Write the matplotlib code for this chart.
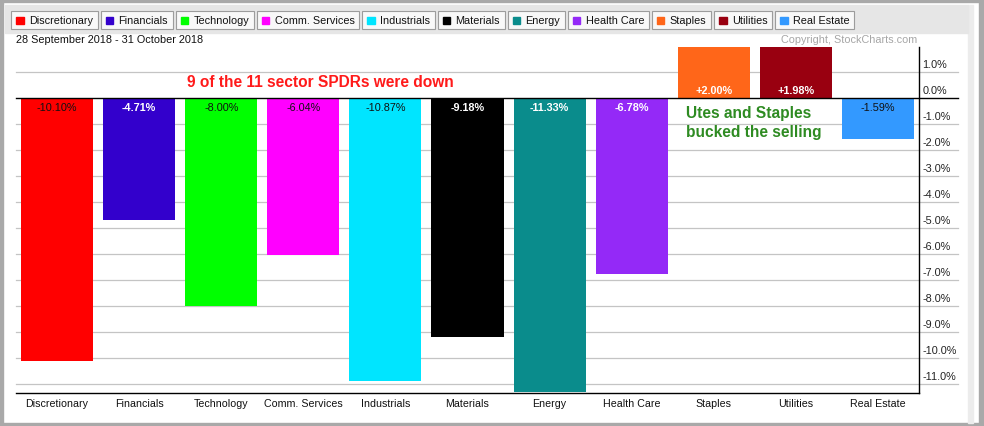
import matplotlib
matplotlib.use("Agg")
import matplotlib.pyplot as plt
from matplotlib.patches import Rectangle
from matplotlib.transforms import blended_transform_factory

plt.rcParams["font.family"] = ["Liberation Sans", "DejaVu Sans"]

sectors = ["Discretionary", "Financials", "Technology", "Comm. Services", "Industrials",
           "Materials", "Energy", "Health Care", "Staples", "Utilities", "Real Estate"]
changes = [-10.10, -4.71, -8.00, -6.04, -10.87, -9.18, -11.33, -6.78, 2.00, 1.98, -1.59]
colors = ["#ff0000", "#3300cc", "#00ff00", "#ff00ff", "#00e5ff", "#000000",
          "#0a8c8c", "#9429f7", "#ff6619", "#990010", "#3399ff"]
dark_bars = ["Financials", "Materials", "Energy", "Health Care", "Staples", "Utilities"]
y_ticks = [1, 0, -1, -2, -3, -4, -5, -6, -7, -8, -9, -10, -11]
date_range = "28 September 2018 - 31 October 2018"

W, H = 984, 426
fig = plt.figure(figsize=(W / 100, H / 100), dpi=100)
fig.patch.set_facecolor("white")

# pixel-space layer for the frame, header and legend buttons
deco = fig.add_axes([0, 0, 1, 1], zorder=0)
deco.set_xlim(0, W)
deco.set_ylim(H, 0)
deco.axis("off")

border = "#a9a9a9"
deco.add_patch(Rectangle((0, 0), W, 2, color=border))
deco.add_patch(Rectangle((0, 0), 3, H, color=border))
deco.add_patch(Rectangle((0, H - 3), W, 3, color=border))
deco.add_patch(Rectangle((W - 5, 0), 5, H, color=border))
deco.add_patch(Rectangle((968, 5), 5, H - 8, color="#ececec"))
deco.add_patch(Rectangle((5, 5), 963, 28, color="#e6e6e6"))

renderer = fig.canvas.get_renderer()
bx = 11
for name, col in zip(sectors, colors):
    t = deco.text(bx + 18, 20.5, name, fontsize=7.8, va="center", ha="left", color="#111111", zorder=3)
    tw = t.get_window_extent(renderer=renderer).width
    bw = 18 + tw + 4.5
    deco.add_patch(Rectangle((bx, 11), bw, 18, facecolor="#f8f8f8", edgecolor="#9c9c9c", lw=0.8, zorder=2))
    deco.add_patch(Rectangle((bx + 5, 16.5), 7.5, 7.5, color=col, zorder=3))
    bx += bw + 3

deco.text(16, 40, date_range, fontsize=7.8, va="center", ha="left", color="#111111")
deco.text(917, 40, "Copyright, StockCharts.com", fontsize=7.8, va="center", ha="right", color="#a6a6a6")

# main bar chart
left, right, top, bottom = 16, 919, 47, 393
ax = fig.add_axes([left / W, (H - bottom) / H, (right - left) / W, (bottom - top) / H], zorder=1)
ax.set_facecolor("none")
xs = list(range(len(sectors)))
ax.bar(xs, changes, width=72 / 82, color=colors, zorder=2)
ax.set_xlim(-0.5, len(sectors) - 0.5)
ax.set_ylim(-11.35, 1.96)

for s in ["top", "left"]:
    ax.spines[s].set_visible(False)
ax.spines["right"].set_linewidth(1.0)
ax.spines["bottom"].set_linewidth(1.0)
ax.set_yticks([])
ax.set_xticks(xs)
ax.set_xticklabels(sectors, fontsize=7.7, color="#111111")
ax.tick_params(axis="x", length=0, pad=4)

ext = (958 - left) / (right - left)
tr = blended_transform_factory(ax.transAxes, ax.transData)
for v in y_ticks:
    if v == 0:
        ax.axhline(0, xmin=0, xmax=ext, color="black", lw=1.0, zorder=3, clip_on=False)
    else:
        ax.axhline(v, xmin=0, xmax=ext, color="#c4c4c4", lw=0.9, zorder=1, clip_on=False)
    ax.text(1.004, v + 0.08, f"{v:.1f}%", transform=tr, fontsize=7.8, va="bottom", ha="left", color="#222222")

for i, (name, v) in enumerate(zip(sectors, changes)):
    label = f"{v:+.2f}%" if v > 0 else f"{v:.2f}%"
    ypos = 0.27 if v > 0 else -0.38
    if name in dark_bars:
        ax.text(i, ypos, label, fontsize=7.8, ha="center", va="center", color="white", fontweight="bold", zorder=4)
    else:
        ax.text(i, ypos, label, fontsize=7.8, ha="center", va="center", color="#111111", zorder=4)

ax.text(3.21, 0.58, "9 of the 11 sector SPDRs were down", fontsize=11.2, fontweight="bold",
        color="#ff1a1a", ha="center", va="center", zorder=4)
ax.text(7.66, -0.97, "Utes and Staples\nbucked the selling", fontsize=11.2, fontweight="bold",
        color="#2e8b22", ha="left", va="center", linespacing=1.35, zorder=4)

fig.savefig("out.png", dpi=100)
